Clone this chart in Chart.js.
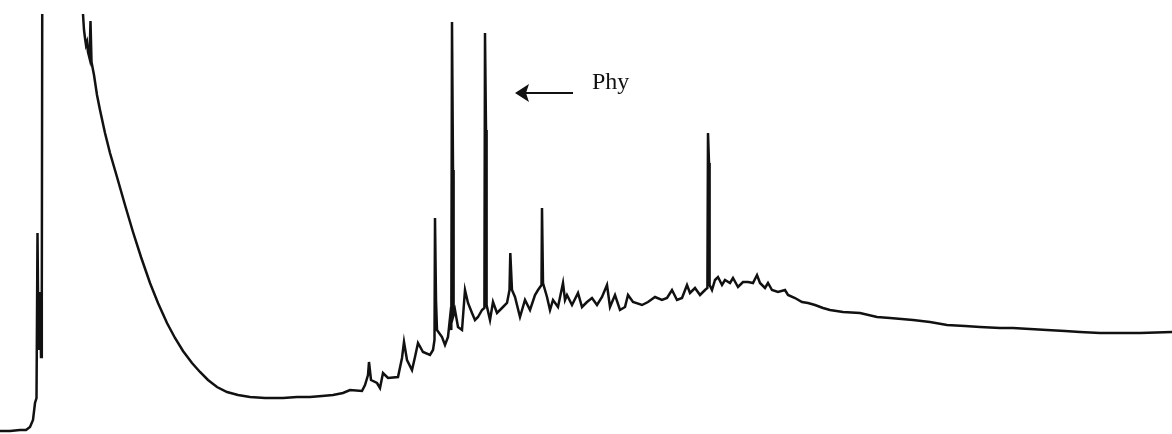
<!DOCTYPE html>
<html>
<head>
<meta charset="utf-8">
<title>Chromatogram</title>
<script src="https://cdn.jsdelivr.net/npm/chart.js@4/dist/chart.umd.min.js"></script>
<style>
    html, body { margin: 0; padding: 0; background: #ffffff; overflow: hidden; }
    #wrap { position: relative; width: 1172px; height: 434px; }
    #phy {
        position: absolute;
        font-family: "Liberation Serif", "DejaVu Serif", serif;
        font-size: 24px;
        line-height: 24px;
        color: #111;
        white-space: nowrap;
    }
</style>
</head>
<body>
<div id="wrap">
    <canvas id="chrom" width="1172" height="434"></canvas>
    <div id="phy">Phy</div>
</div>
<script>
    "use strict";

    // Retention axis (arbitrary units across the trace)
    var rt = [
        0, 10, 20, 26, 30, 33, 35, 36.5, 37.5, 38.5, 40, 41, 41.8, 42.5, 82.5,
        83, 84, 85, 86, 87, 88, 89.5, 90.5, 91.5, 94, 97, 100, 105, 110, 117,
        125, 133, 141, 150, 158, 167, 175, 183, 192, 200, 208, 217, 227, 238, 250,
        265, 283, 297, 310, 322, 333, 343, 350, 362, 365, 368, 369, 371, 377, 380,
        383, 388, 398, 402, 404, 407, 412, 415, 418, 423, 430, 433, 434.5, 435, 436,
        437, 442, 445, 448, 450, 451.3, 452, 453, 453.6, 455, 458, 462, 465, 468,
        472, 475, 478, 482, 484.4, 485, 486, 486.6, 490, 493, 497, 502, 507, 509.5,
        510.3, 512, 515, 520, 525, 530, 535, 538, 541.5, 542, 543, 547, 550, 553,
        558, 563, 565, 567, 572, 578, 582, 587, 592, 597, 602, 607, 610, 615,
        620, 625, 628, 633, 642, 648, 655, 662, 667, 672, 677, 682, 687, 690,
        695, 700, 705, 707.4, 708, 709, 709.6, 712, 715, 718, 722, 725, 730, 733,
        738, 743, 748, 753, 757, 760, 765, 768, 772, 778, 785, 788, 795, 802,
        808, 815, 823, 830, 843, 860, 877, 890, 913, 930, 947, 965, 980, 1000,
        1013, 1030, 1047, 1065, 1080, 1100, 1113, 1140, 1172
    ];

    // Detector response (600 = off scale, clipped at the top)
    var signal = [
        3, 3, 4, 4, 7, 14, 31, 36, 201, 84, 142, 77, 134, 600, 600,
        420, 404, 396, 389, 392, 382, 376, 413, 372, 359, 339, 324, 301, 281, 257,
        229, 202, 177, 151, 131, 111, 96, 83, 71, 62, 54, 47, 42, 39, 37,
        36, 36, 37, 37, 38, 39, 41, 44, 43, 49, 59, 72, 54, 51, 46,
        61, 56, 57, 76, 92, 74, 64, 77, 91, 82, 79, 84, 94, 216, 134,
        104, 97, 89, 97, 116, 104, 412, 264, 119, 124, 107, 104, 144, 131,
        121, 114, 117, 124, 126, 401, 304, 129, 114, 132, 121, 126, 131, 144,
        181, 144, 137, 117, 134, 124, 139, 144, 149, 226, 151, 137, 124, 134,
        127, 151, 134, 139, 129, 141, 127, 132, 136, 129, 137, 149, 127, 139,
        124, 127, 139, 132, 129, 132, 137, 134, 136, 144, 134, 136, 149, 141,
        146, 139, 144, 146, 301, 271, 149, 144, 154, 157, 149, 154, 151, 156,
        147, 152, 152, 151, 159, 151, 146, 151, 144, 142, 144, 139, 136, 132,
        131, 129, 126, 124, 122, 121, 117, 116, 114, 112, 109, 108, 107, 106,
        106, 105, 104, 103, 102, 101, 101, 101, 102
    ];

    // Peak label with arrow (data units)
    var labelText = "Phy";
    var arrowTip = { x: 515, y: 341 };
    var arrowTail = { x: 573, y: 341 };
    var labelPos = { x: 592, y: 345 };

    var points = rt.map(function (t, i) {
        return { x: t, y: signal[i] };
    });

    // Arrow + label placement
    var arrowPlugin = {
        id: "arrowLabel",
        afterDatasetsDraw: function (chart) {
            var ctx = chart.ctx;
            var sx = chart.scales.x, sy = chart.scales.y;
            var tx = sx.getPixelForValue(arrowTip.x), ty = sy.getPixelForValue(arrowTip.y);
            var ex = sx.getPixelForValue(arrowTail.x);
            ctx.save();
            ctx.strokeStyle = "#111";
            ctx.fillStyle = "#111";
            ctx.lineWidth = 2;
            ctx.beginPath();
            ctx.moveTo(tx + 8, ty);
            ctx.lineTo(ex, ty);
            ctx.stroke();
            ctx.beginPath();
            ctx.moveTo(tx, ty);
            ctx.lineTo(tx + 14, ty - 9);
            ctx.lineTo(tx + 11, ty);
            ctx.lineTo(tx + 14, ty + 9);
            ctx.closePath();
            ctx.fill();
            ctx.restore();

            var el = document.getElementById("phy");
            el.textContent = labelText;
            el.style.left = sx.getPixelForValue(labelPos.x) + "px";
            el.style.top = (sy.getPixelForValue(labelPos.y) - 20) + "px";
        }
    };

    var chrom = new Chart(document.getElementById("chrom").getContext("2d"), {
        type: "line",
        data: {
            datasets: [{
                data: points,
                borderColor: "#111111",
                borderWidth: 2.5,
                pointRadius: 0,
                tension: 0,
                fill: false
            }]
        },
        options: {
            responsive: false,
            animation: false,
            layout: { padding: { top: 14, left: 0, right: 0, bottom: 0 } },
            plugins: {
                legend: { display: false },
                tooltip: { enabled: false }
            },
            scales: {
                x: { type: "linear", min: 0, max: 1172, display: false },
                y: { min: 0, max: 420, display: false }
            }
        },
        plugins: [arrowPlugin]
    });
</script>
</body>
</html>
